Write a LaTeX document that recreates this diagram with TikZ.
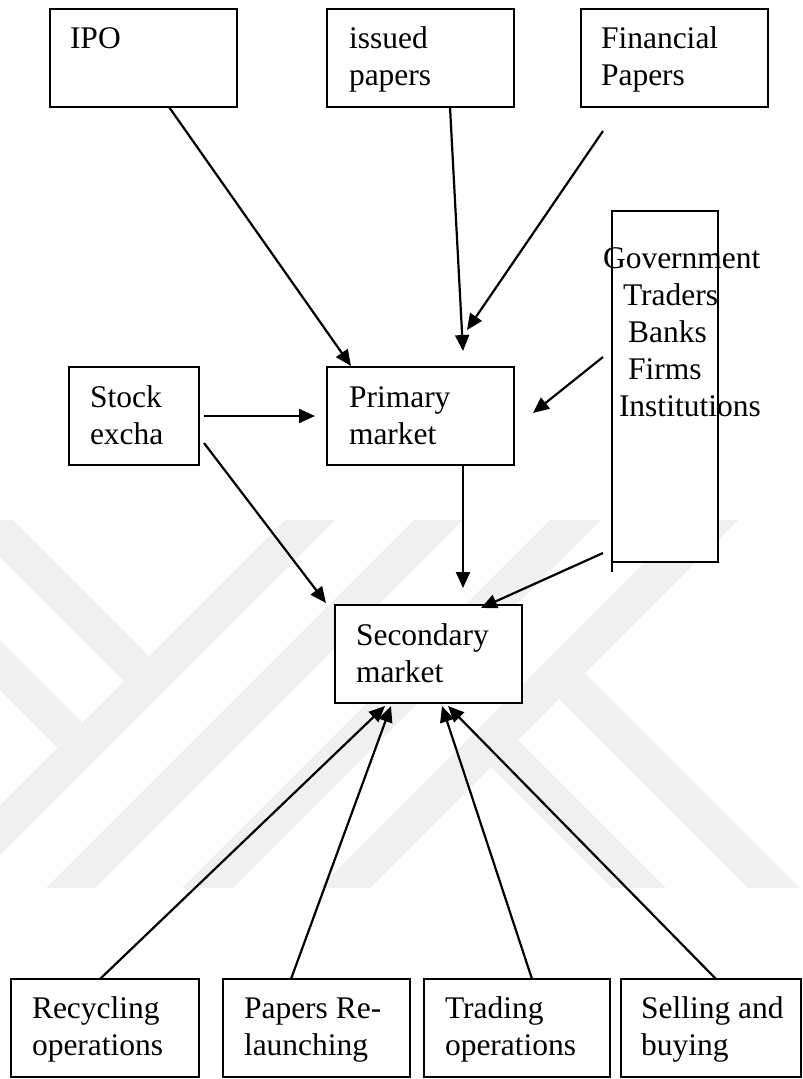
\documentclass[tikz,border=0pt]{standalone}
\usepackage{fontspec}
\setmainfont{Liberation Serif}
\usetikzlibrary{arrows.meta,calc}
\begin{document}
\begin{tikzpicture}[x=1pt,y=-1pt,
  box/.style={draw, line width=2.2pt, fill=white, rectangle, inner sep=0pt, outer sep=0pt},
  txt/.style={anchor=north west, inner sep=0pt, outer sep=0pt, align=left, font=\fontsize{31.5}{37}\selectfont},
  arr/.style={line width=2.2pt, -{Triangle[length=16pt,width=14pt]}},
  wm/.style={fill=black!6}]
\useasboundingbox (0,0) rectangle (803,1079);
% watermark
\fill[wm] (0,520) -- (13,520) -- (149,656) -- (124,681) -- (0,557) -- cycle;
\fill[wm] (0,640) -- (82,722) -- (57,747) -- (0,690) -- cycle;
\fill[wm] (285,520) -- (335,520) -- (0,855) -- (0,805) -- cycle;
\fill[wm] (414,520) -- (463,520) -- (95,888) -- (46,888) -- cycle;
\fill[wm] (550,520) -- (601,520) -- (233,888) -- (182,888) -- cycle;
\fill[wm] (687,520) -- (738,520) -- (370,888) -- (319,888) -- cycle;
\fill[wm] (585,673) -- (800,888) -- (748,888) -- (559,699) -- cycle;
\fill[wm] (518,740) -- (666,888) -- (612,888) -- (491,767) -- cycle;
% boxes
\node[box, minimum width=187, minimum height=98] (ipo) at (143.5,58) {};
\node[box, minimum width=187, minimum height=98] (iss) at (420.5,58) {};
\node[box, minimum width=187, minimum height=98] (fin) at (674.5,58) {};
\node[box, minimum width=106, minimum height=351] (gov) at (665,386.5) {};
\draw[line width=2.2pt] (gov.south west) -- ++(0,10);
\node[box, minimum width=130, minimum height=98] (stk) at (134,416) {};
\node[box, minimum width=187, minimum height=98] (pri) at (420.5,416) {};
\node[box, minimum width=187, minimum height=98] (sec) at (428.5,654) {};
\node[box, minimum width=188, minimum height=98] (rec) at (105,1028) {};
\node[box, minimum width=187, minimum height=98] (pap) at (316.5,1028) {};
\node[box, minimum width=186, minimum height=98] (tra) at (517,1028) {};
\node[box, minimum width=180, minimum height=98] (sel) at (711,1028) {};
% texts
\node[txt] (ipo-t) at (70,22.1) {\strut IPO};
\node[txt] (iss-t) at (349,22.1) {\strut issued\\papers};
\node[txt] (fin-t) at (601,22.1) {\strut Financial\\Papers};
\node[txt] (gov-t) at (603,242.1) {\strut Government\\\hspace*{20pt}Traders\\\hspace*{25pt}Banks\\\hspace*{25pt}Firms\\\hspace*{16pt}Institutions};
\node[txt] (stk-t) at (90,381.1) {\strut Stock\\excha};
\node[txt] (pri-t) at (349,381.1) {\strut Primary\\market};
\node[txt] (sec-t) at (356,619.1) {\strut Secondary\\market};
\node[txt] (rec-t) at (32,992.1) {\strut Recycling\\operations};
\node[txt] (pap-t) at (244,992.1) {\strut Papers Re-\\launching};
\node[txt] (tra-t) at (445,992.1) {\strut Trading\\operations};
\node[txt] (sel-t) at (641,992.1) {\strut Selling and\\buying};
% connectors
\coordinate (t2) at (463,351);
\coordinate (s3) at (603,131);
\coordinate (t3) at (467,330);
\coordinate (s4) at (603,357);
\coordinate (t4) at (533,413);
\coordinate (s8) at (603,553);
\draw[arr] ($(ipo.south west)+(119,0)$) -- ($(pri.north west)+(24,-1)$);
\draw[arr] ($(iss.south west)+(123,0)$) -- (t2);
\draw[arr] (s3) -- (t3);
\draw[arr] (s4) -- (t4);
\draw[arr] ($(stk.east)+(5,0)$) -- ($(pri.west)+(-12,0)$);
\draw[arr] ($(pri.south east)+(-51,0)$) -- ($(sec.north west)+(128,-17)$);
\draw[arr] ($(stk.south east)+(5,-22)$) -- ($(sec.north west)+(-9,-2)$);
\draw[arr] (s8) -- ($(sec.north west)+(146,3)$);
\draw[arr] ($(rec.north west)+(89,0)$) -- ($(sec.south west)+(50,3)$);
\draw[arr] ($(pap.north west)+(68,0)$) -- ($(sec.south west)+(56,3)$);
\draw[arr] ($(tra.north west)+(108,0)$) -- ($(sec.south west)+(107,3)$);
\draw[arr] ($(sel.north west)+(95,0)$) -- ($(sec.south west)+(113,3)$);
\end{tikzpicture}
\end{document}
